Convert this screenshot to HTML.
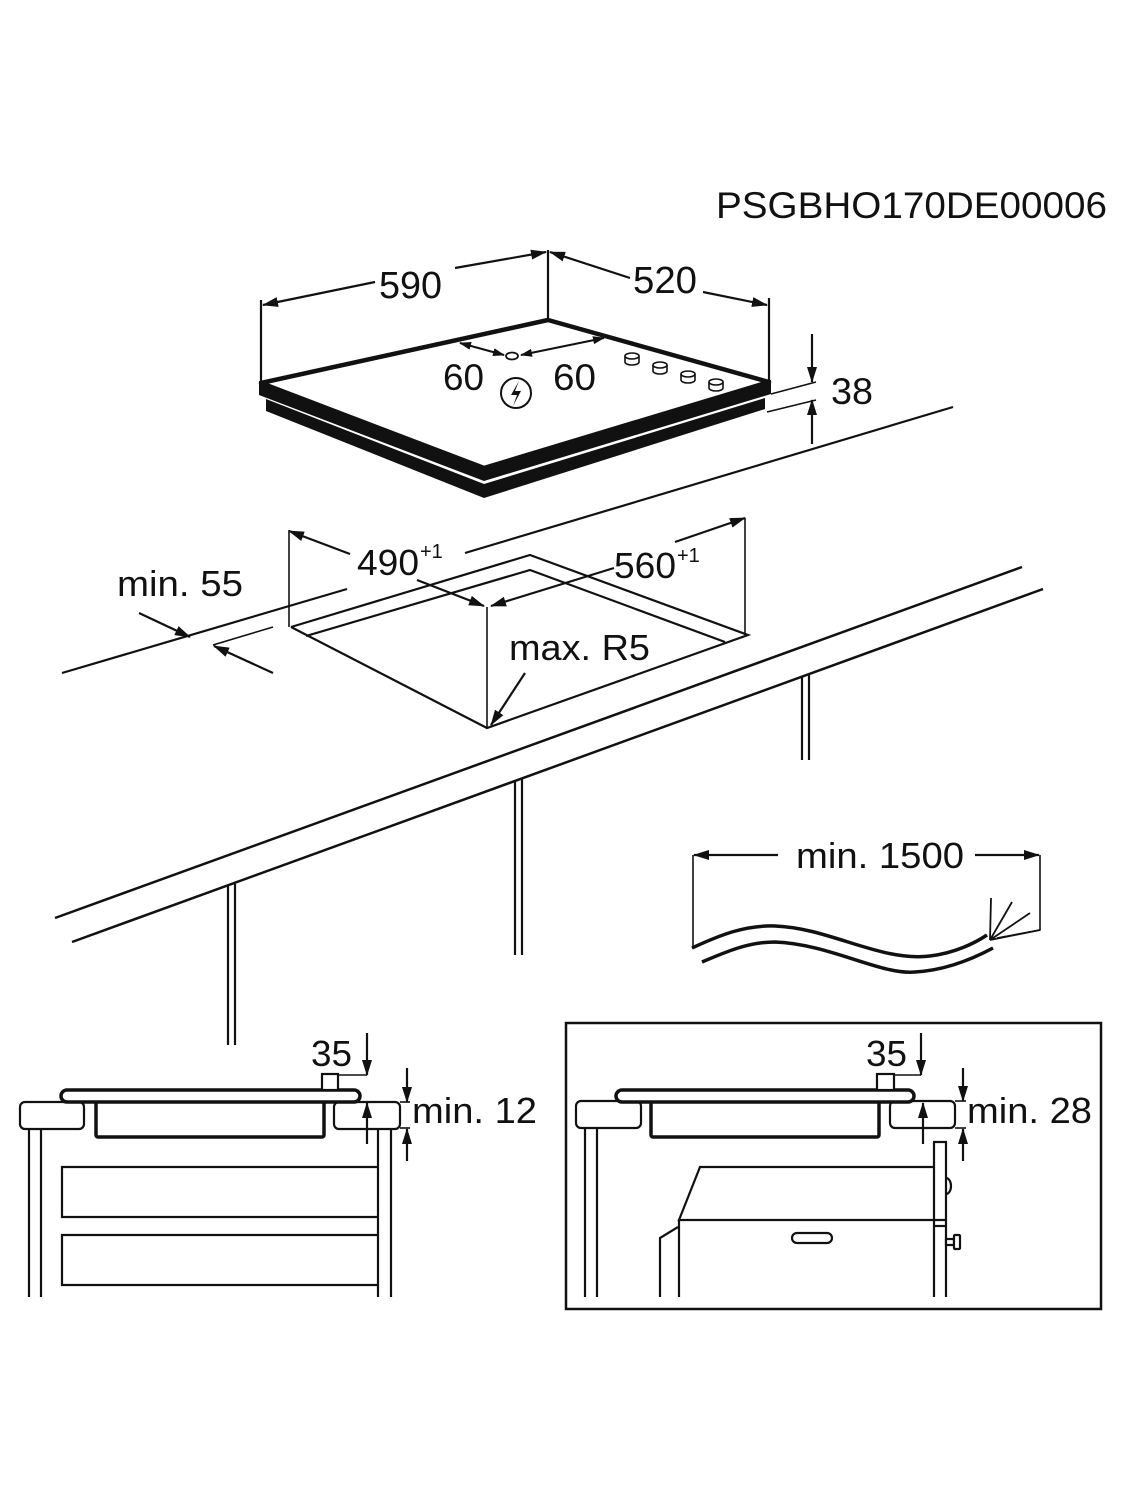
<!DOCTYPE html>
<html><head><meta charset="utf-8"><style>
html,body{margin:0;padding:0;background:#fff;}
svg{display:block;}
text{font-family:"Liberation Sans",Arial,sans-serif;fill:#111;}
</style></head><body>
<svg width="1125" height="1500" viewBox="0 0 1125 1500" xmlns="http://www.w3.org/2000/svg">
<defs>
<marker id="a" viewBox="0 0 16 10" refX="15" refY="5" markerWidth="16" markerHeight="10" markerUnits="userSpaceOnUse" orient="auto-start-reverse">
<path d="M0,0 L16,5 L0,10 Z" fill="#111"/>
</marker>
<marker id="s" viewBox="0 0 12 8" refX="11" refY="4" markerWidth="12" markerHeight="8" markerUnits="userSpaceOnUse" orient="auto-start-reverse">
<path d="M0,0 L12,4 L0,8 Z" fill="#111"/>
</marker>
</defs>
<rect width="1125" height="1500" fill="#fff"/>
<g stroke="#111" fill="none" stroke-width="2.2">

<text x="716" y="218" font-size="37" textLength="391" lengthAdjust="spacingAndGlyphs" stroke="none">PSGBHO170DE00006</text>

<!-- hob -->
<line x1="261" y1="383" x2="261" y2="300"/>
<line x1="548" y1="320" x2="548" y2="250"/>
<line x1="769" y1="382" x2="769" y2="298"/>
<line x1="263" y1="305" x2="375" y2="282" marker-start="url(#a)"/>
<line x1="455" y1="268" x2="546" y2="252" marker-end="url(#a)"/>
<text x="379" y="298" font-size="38" textLength="63" lengthAdjust="spacingAndGlyphs" stroke="none">590</text>
<line x1="550" y1="252" x2="630" y2="278" marker-start="url(#a)"/>
<line x1="703" y1="292" x2="767" y2="305" marker-end="url(#a)"/>
<text x="633" y="293" font-size="38" textLength="64" lengthAdjust="spacingAndGlyphs" stroke="none">520</text>

<polygon points="259,381 484,466 771,380 771,394 484,481 259,395" fill="#111" stroke="none"/>
<polygon points="266,399 484,484 765,398 765,409 484,498 266,411" fill="#111" stroke="none"/>
<polygon points="261,383 548,320 769,382 484,468" fill="#fff" stroke-width="4.5" stroke-linejoin="round"/>

<line x1="460" y1="343" x2="504" y2="355" marker-start="url(#s)" marker-end="url(#s)" stroke-width="2"/>
<ellipse cx="512" cy="356" rx="6" ry="3.5" stroke-width="1.8"/>
<line x1="521" y1="355" x2="604" y2="338" marker-start="url(#s)" marker-end="url(#s)" stroke-width="2"/>
<text x="443" y="390" font-size="37" textLength="41" lengthAdjust="spacingAndGlyphs" stroke="none">60</text>
<text x="553" y="390" font-size="37" textLength="43" lengthAdjust="spacingAndGlyphs" stroke="none">60</text>
<circle cx="516" cy="393" r="15" stroke-width="2"/>
<path d="M519,381 L511,395 L517,395 L513,406 L521,391 L515,391 Z" fill="#111" stroke="none"/>

<g stroke-width="1.6" fill="#fff">
<path d="M625,356 v6 a7,3 0 0 0 14,0 v-6"/><ellipse cx="632" cy="356" rx="7" ry="3"/>
<path d="M653,365 v6 a7,3 0 0 0 14,0 v-6"/><ellipse cx="660" cy="365" rx="7" ry="3"/>
<path d="M681,374 v6 a7,3 0 0 0 14,0 v-6"/><ellipse cx="688" cy="374" rx="7" ry="3"/>
<path d="M709,382 v6 a7,3 0 0 0 14,0 v-6"/><ellipse cx="716" cy="382" rx="7" ry="3"/>
</g>

<line x1="771" y1="394" x2="816" y2="382" stroke-width="1.6"/>
<line x1="767" y1="412" x2="816" y2="400" stroke-width="1.6"/>
<line x1="812" y1="334" x2="812" y2="382" marker-end="url(#a)"/>
<line x1="812" y1="444" x2="812" y2="400" marker-end="url(#a)"/>
<text x="831" y="404" font-size="37" textLength="42" lengthAdjust="spacingAndGlyphs" stroke="none">38</text>

<!-- countertop -->
<line x1="62" y1="673" x2="347" y2="589"/>
<line x1="465" y1="553" x2="953" y2="407"/>
<line x1="213" y1="645" x2="273" y2="627" stroke-width="1.6"/>
<polyline points="291,627 530,555 748,635 487,728 291,627"/>
<polyline points="306,636 530,570 725,642"/>
<line x1="289" y1="530" x2="289" y2="627" stroke-width="1.6"/>
<line x1="745" y1="518" x2="745" y2="635" stroke-width="1.6"/>
<line x1="487" y1="607" x2="487" y2="728" stroke-width="1.6"/>
<line x1="289" y1="531" x2="350" y2="554" marker-start="url(#a)"/>
<line x1="417" y1="580" x2="484" y2="606" marker-end="url(#a)"/>
<line x1="675" y1="542" x2="745" y2="518" marker-end="url(#a)"/>
<line x1="614" y1="568" x2="491" y2="606" marker-end="url(#a)"/>
<text x="357" y="575" font-size="36" textLength="62" lengthAdjust="spacingAndGlyphs" stroke="none">490</text>
<text x="420" y="558" font-size="20" stroke="none">+1</text>
<text x="614" y="578" font-size="36" textLength="62" lengthAdjust="spacingAndGlyphs" stroke="none">560</text>
<text x="677" y="562" font-size="20" stroke="none">+1</text>
<text x="509" y="660" font-size="36" textLength="141" lengthAdjust="spacingAndGlyphs" stroke="none">max. R5</text>
<line x1="525" y1="673" x2="491" y2="725" marker-end="url(#a)"/>
<text x="117" y="596" font-size="36" textLength="126" lengthAdjust="spacingAndGlyphs" stroke="none">min. 55</text>
<line x1="139" y1="613" x2="190" y2="637" marker-end="url(#a)"/>
<line x1="273" y1="673" x2="214" y2="646" marker-end="url(#a)"/>

<line x1="55" y1="918" x2="1022" y2="567" stroke-width="2.5"/>
<line x1="72" y1="942" x2="1043" y2="589" stroke-width="2.5"/>
<line x1="228" y1="886" x2="228" y2="1045"/><line x1="235" y1="884" x2="235" y2="1045"/>
<line x1="515" y1="781" x2="515" y2="955"/><line x1="522" y1="779" x2="522" y2="955"/>
<line x1="802" y1="677" x2="802" y2="760"/><line x1="809" y1="674" x2="809" y2="760"/>

<!-- cable -->
<line x1="693" y1="855" x2="693" y2="948" stroke-width="1.6"/>
<line x1="778" y1="855" x2="694" y2="855" marker-end="url(#a)"/>
<text x="796" y="868" font-size="36" textLength="168" lengthAdjust="spacingAndGlyphs" stroke="none">min. 1500</text>
<line x1="975" y1="855" x2="1039" y2="855" marker-end="url(#a)"/>
<polyline points="1040,855 1040,930 997,938" stroke-width="1.6"/>
<path d="M692,948 C720,935 745,925 775,926 C830,928 880,962 930,956 C955,953 975,943 987,935" stroke-width="3.5"/>
<path d="M702,962 C730,950 750,942 775,942 C830,944 880,975 915,972 C950,970 980,955 993,948" stroke-width="3.5"/>
<path d="M990,940 L991,898 M990,940 L1012,902 M990,940 L1030,913 M990,940 L1040,930" stroke-width="1.8"/>

<!-- bottom left -->
<rect x="20" y="1102" width="64" height="27" rx="5" fill="#fff"/>
<rect x="334" y="1102" width="66" height="27" rx="5" fill="#fff"/>
<line x1="29" y1="1129" x2="29" y2="1297"/><line x1="41" y1="1129" x2="41" y2="1297"/>
<line x1="378" y1="1129" x2="378" y2="1297"/><line x1="391" y1="1129" x2="391" y2="1297"/>
<polyline points="378,1167 62,1167 62,1217 378,1217"/>
<polyline points="378,1235 62,1235 62,1285 378,1285"/>
<rect x="96" y="1100" width="228" height="37" rx="2" fill="#fff" stroke-width="3.5"/>
<rect x="61" y="1090" width="299" height="12" rx="6" fill="#fff" stroke-width="3.5"/>
<line x1="66" y1="1097" x2="355" y2="1097" stroke="#fff" stroke-width="2"/>
<rect x="322" y="1074" width="16" height="16" fill="#fff"/>
<line x1="338" y1="1075" x2="367" y2="1075" stroke-width="1.6"/>
<line x1="367" y1="1033" x2="367" y2="1075" marker-end="url(#a)"/>
<text x="311" y="1066" font-size="36" textLength="41" lengthAdjust="spacingAndGlyphs" stroke="none">35</text>
<line x1="400" y1="1102" x2="410" y2="1102" stroke-width="1.6"/>
<line x1="400" y1="1128" x2="410" y2="1128" stroke-width="1.6"/>
<line x1="407" y1="1068" x2="407" y2="1102" marker-end="url(#a)"/>
<line x1="407" y1="1161" x2="407" y2="1129" marker-end="url(#a)"/>
<line x1="367" y1="1144" x2="367" y2="1103" marker-end="url(#a)"/>
<text x="412" y="1123" font-size="36" textLength="125" lengthAdjust="spacingAndGlyphs" stroke="none">min. 12</text>

<!-- bottom right -->
<rect x="566" y="1023" width="535" height="286" stroke-width="2.5"/>
<rect x="576" y="1101" width="65" height="27" rx="5" fill="#fff"/>
<rect x="890" y="1101" width="65" height="27" rx="5" fill="#fff"/>
<line x1="585" y1="1128" x2="585" y2="1297"/><line x1="597" y1="1128" x2="597" y2="1297"/>
<rect x="651" y="1100" width="228" height="37" rx="2" fill="#fff" stroke-width="3.5"/>
<rect x="616" y="1090" width="298" height="12" rx="6" fill="#fff" stroke-width="3.5"/>
<line x1="621" y1="1097" x2="909" y2="1097" stroke="#fff" stroke-width="2"/>
<rect x="877" y="1074" width="17" height="16" fill="#fff"/>
<line x1="894" y1="1075" x2="921" y2="1075" stroke-width="1.6"/>
<line x1="921" y1="1033" x2="921" y2="1075" marker-end="url(#a)"/>
<text x="866" y="1066" font-size="36" textLength="41" lengthAdjust="spacingAndGlyphs" stroke="none">35</text>
<line x1="955" y1="1101" x2="966" y2="1101" stroke-width="1.6"/>
<line x1="955" y1="1128" x2="966" y2="1128" stroke-width="1.6"/>
<line x1="963" y1="1068" x2="963" y2="1101" marker-end="url(#a)"/>
<line x1="963" y1="1161" x2="963" y2="1129" marker-end="url(#a)"/>
<line x1="923" y1="1144" x2="923" y2="1103" marker-end="url(#a)"/>
<text x="967" y="1123" font-size="36" textLength="125" lengthAdjust="spacingAndGlyphs" stroke="none">min. 28</text>
<polyline points="934,1297 934,1142 946,1142 946,1297"/>
<path d="M946,1178 a5,8 0 0 1 0,16"/>
<rect x="946" y="1239" width="8" height="6" fill="#fff"/>
<rect x="954" y="1235" width="6" height="14" rx="1" fill="#fff"/>
<polyline points="934,1167 700,1167 679,1220 946,1220"/>
<line x1="934" y1="1226" x2="946" y2="1226"/>
<polyline points="679,1220 679,1297"/>
<polyline points="678,1227 660,1238 660,1297"/>
<rect x="792" y="1233" width="40" height="10" rx="5"/>
</g>
</svg>
</body></html>
